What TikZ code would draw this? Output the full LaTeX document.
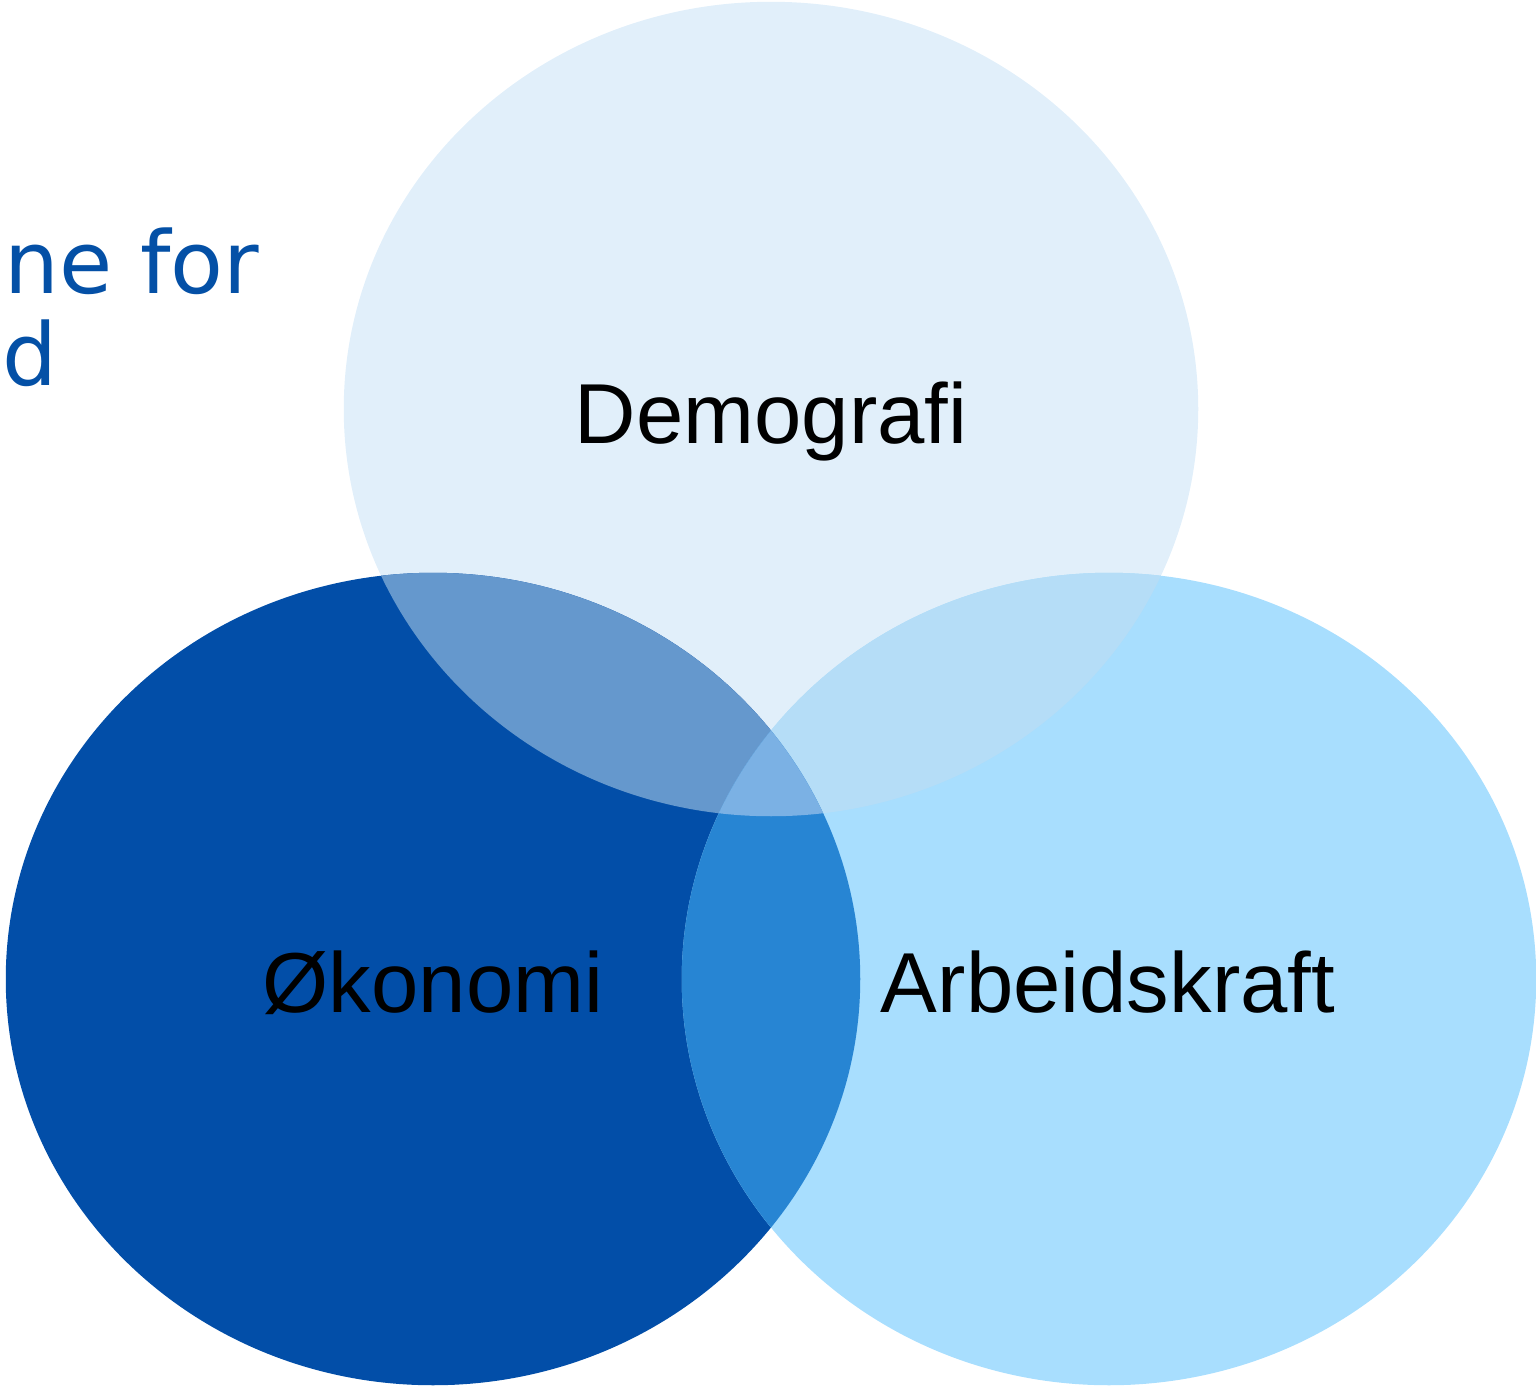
\documentclass[tikz,border=0pt]{standalone}
\usepackage{fontspec}
\setmainfont{Liberation Sans}
\newfontfamily\titlefont{DejaVu Sans}
\definecolor{cTop}{HTML}{E1EFFA}
\definecolor{cLeft}{HTML}{024EA8}
\definecolor{cRight}{HTML}{A8DEFE}
\definecolor{cTL}{HTML}{6598CD}
\definecolor{cTR}{HTML}{B5DDF7}
\definecolor{cLR}{HTML}{2785D3}
\definecolor{cAll}{HTML}{7BB1E4}
\definecolor{cTitle}{HTML}{0450A6}
\tikzset{
  lbl/.style={anchor=base, inner sep=0pt, font=\fontsize{24.2}{28}\selectfont, text=black},
  ttl/.style={anchor=base west, inner sep=0pt, font=\titlefont\fontsize{24.6}{30}\selectfont, text=cTitle}
}
\begin{document}
\begin{tikzpicture}[x=0.01cm,y=-0.01cm]
\useasboundingbox (0,0) rectangle (1536,1387);
\def\topE{(771,409) ellipse [x radius=4.27cm, y radius=4.07cm]}
\def\leftE{(433,979) ellipse [x radius=4.27cm, y radius=4.06cm]}
\def\rightE{(1109,979) ellipse [x radius=4.27cm, y radius=4.06cm]}
\fill[cTop] \topE;
\fill[cLeft] \leftE;
\fill[cRight] \rightE;
\begin{scope}
  \clip \topE;
  \fill[cTL] \leftE;
  \fill[cTR] \rightE;
\end{scope}
\begin{scope}
  \clip \leftE;
  \fill[cLR] \rightE;
  \clip \rightE;
  \fill[cAll] \topE;
\end{scope}
\node[ttl] (t1) at (4,293) {ne for};
\node[ttl] (t2) at (2,385) {d};
\node[lbl] (demo) at (771,443) {Demografi};
\node[lbl] (oko) at (433,1012) {Økonomi};
\node[lbl] (arb) at (1108,1012) {Arbeidskraft};
\end{tikzpicture}
\end{document}
